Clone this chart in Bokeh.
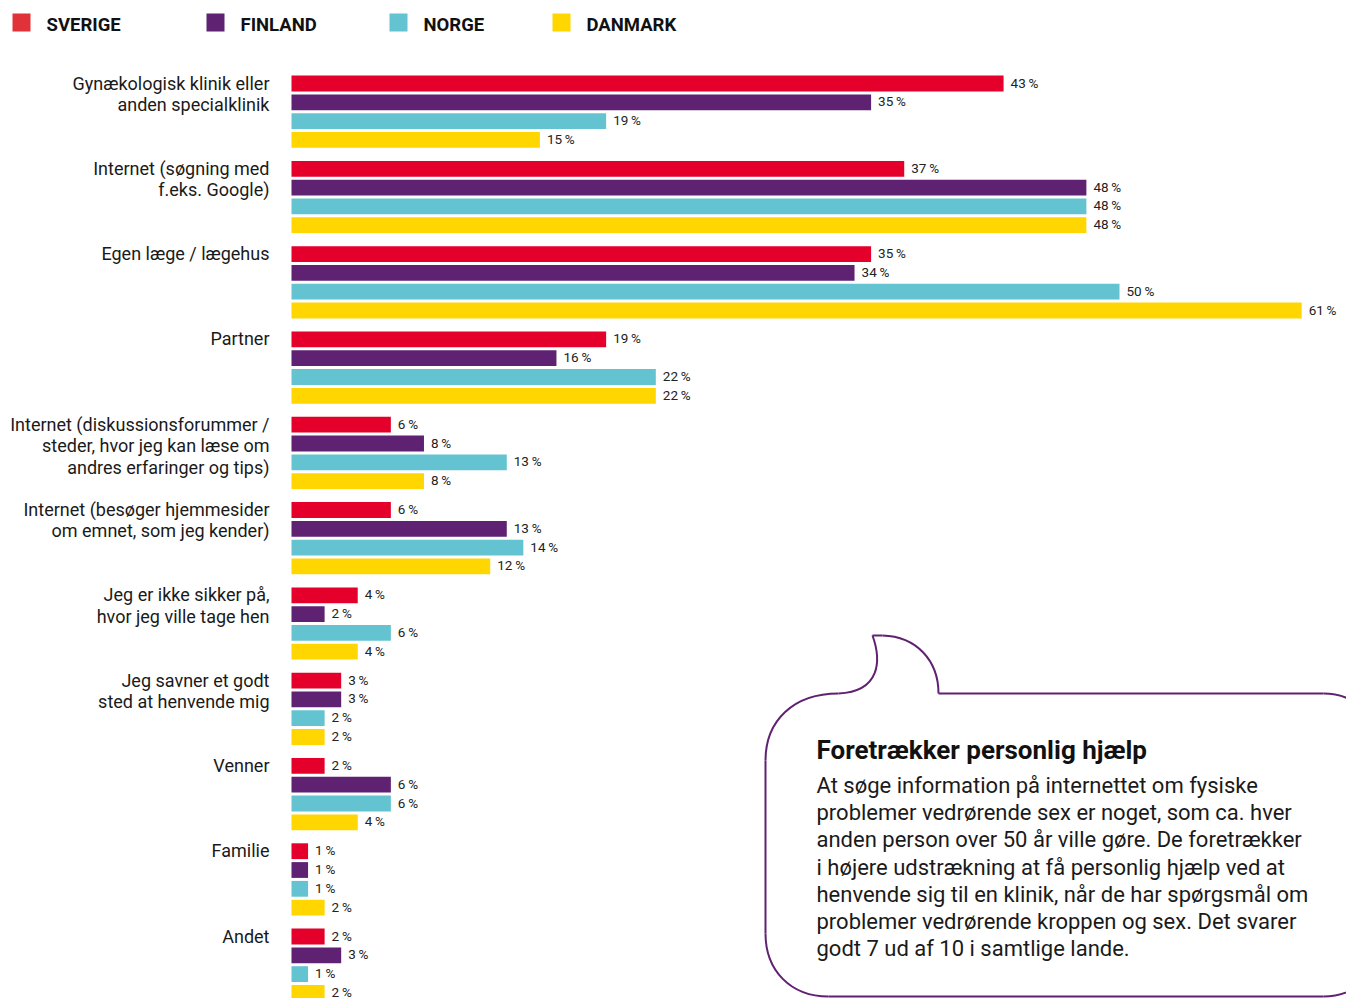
from bokeh.plotting import figure
from bokeh.models import Range1d
from bokeh.core.properties import value
from bokeh.embed import file_html
from bokeh.resources import INLINE

# ---------------- data ----------------
categories = [
    "Gynækologisk klinik eller\nanden specialklinik",
    "Internet (søgning med\nf.eks. Google)",
    "Egen læge / lægehus",
    "Partner",
    "Internet (diskussionsforummer /\nsteder, hvor jeg kan læse om\nandres erfaringer og tips)",
    "Internet (besøger hjemmesider\nom emnet, som jeg kender)",
    "Jeg er ikke sikker på,\nhvor jeg ville tage hen",
    "Jeg savner et godt\nsted at henvende mig",
    "Venner",
    "Familie",
    "Andet",
]
countries = ["SVERIGE", "FINLAND", "NORGE", "DANMARK"]
sverige = [43, 37, 35, 19, 6, 6, 4, 3, 2, 1, 2]
finland = [35, 48, 34, 16, 8, 13, 2, 3, 6, 1, 3]
norge = [19, 48, 50, 22, 13, 14, 6, 2, 6, 1, 1]
danmark = [15, 48, 61, 22, 8, 12, 4, 2, 4, 2, 2]
series = [sverige, finland, norge, danmark]

box_title = "Foretrækker personlig hjælp"
box_lines = [
    "At søge information på internettet om fysiske",
    "problemer vedrørende sex er noget, som ca. hver",
    "anden person over 50 år ville gøre. De foretrækker",
    "i højere udstrækning at få personlig hjælp ved at",
    "henvende sig til en klinik, når de har spørgsmål om",
    "problemer vedrørende kroppen og sex. Det svarer",
    "godt 7 ud af 10 i samtlige lande.",
]

# ---------------- styling / layout ----------------
bar_colors = ["#e4002b", "#5f2172", "#63c3d0", "#ffd600"]
legend_colors = ["#e03238", "#5f2172", "#63c3d0", "#ffd600"]
PURPLE = "#5f2172"
FONT = "Roboto"

W, H = 1346, 998
PX_PER_PCT = 16.56
X0 = 291
GROUP0 = 83.0
GROUP_PITCH = 85.3
BAR_PITCH = 18.8
BAR_H = 15.8

p = figure(width=W, height=H, output_backend="svg", toolbar_location=None,
           x_range=Range1d(-X0 / PX_PER_PCT, (W - X0) / PX_PER_PCT),
           y_range=Range1d(H, 0),
           min_border=0, min_border_left=0, min_border_right=0,
           min_border_top=0, min_border_bottom=0)
p.extra_x_ranges = {"px": Range1d(0, W)}
p.axis.visible = False
p.grid.visible = False
p.outline_line_color = None
p.background_fill_color = "white"
p.border_fill_color = "white"

n = len(categories)
group_y = [GROUP0 + GROUP_PITCH * i for i in range(n)]

for j, vals in enumerate(series):
    ys = [g + BAR_PITCH * j for g in group_y]
    p.hbar(y=ys, left=0, right=vals, height=BAR_H, color=bar_colors[j], line_color=None)
    p.text(x=vals, y=ys, text=[f"{v}\u2009%" for v in vals], x_offset=7, y_offset=-1,
           text_baseline="middle", text_align="left",
           text_font=value(FONT), text_font_size="13.5px", text_color="#222222")

# category labels
p.text(x=[0] * n, y=group_y, text=categories, x_offset=-22, y_offset=-11,
       text_align="right", text_baseline="top", text_line_height=1.02,
       text_font=value(FONT), text_font_size="18px", text_color="#1a1a1a")

# legend
leg_x = [21, 215, 398, 561]
p.rect(x=leg_x, y=[22] * 4, width=18, height=18, color=legend_colors,
       line_color=None, x_range_name="px", width_units="screen", height_units="screen")
p.text(x=[x + 25 for x in leg_x], y=[24] * 4, text=countries, x_range_name="px",
       text_baseline="middle", text_font=value(FONT), text_font_style="bold",
       text_font_size="18.5px", text_color="#111111")

# speech bubble (pixel coordinates on the extra range)
L, T, B, R = 765, 693, 996, 1385
kw = dict(line_color=PURPLE, line_width=2, x_range_name="px")
# tail left side
p.bezier(x0=[872], y0=[635], cx0=[881], cy0=[660], cx1=[880], cy1=[691], x1=[838], y1=[T], **kw)
# top-left corner
p.bezier(x0=[838], y0=[T], cx0=[793], cy0=[T], cx1=[L], cy1=[720], x1=[L], y1=[760], **kw)
# left edge
p.line(x=[L, L], y=[760, 933], **kw)
# bottom-left corner
p.bezier(x0=[L], y0=[933], cx0=[L], cy0=[970], cx1=[790], cy1=[B], x1=[828], y1=[B], **kw)
# bottom edge and bottom-right corner
p.line(x=[828, 1323], y=[B, B], **kw)
p.bezier(x0=[1323], y0=[B], cx0=[1356], cy0=[B], cx1=[R], cy1=[970], x1=[R], y1=[937], **kw)
# tail right side
p.line(x=[872, 882], y=[635, 635], **kw)
p.bezier(x0=[882], y0=[635], cx0=[916], cy0=[636], cx1=[938], cy1=[660], x1=[938], y1=[T], **kw)
# top edge and top-right corner
p.line(x=[938, 1323], y=[T, T], **kw)
p.bezier(x0=[1323], y0=[T], cx0=[1356], cy0=[T], cx1=[R], cy1=[720], x1=[R], y1=[753], **kw)

p.text(x=[816], y=[749], text=[box_title], x_range_name="px", text_baseline="middle",
       text_font=value(FONT), text_font_style="bold", text_font_size="26px",
       text_color="#111111")
p.text(x=[816] * len(box_lines), y=[785 + 27.2 * k for k in range(len(box_lines))],
       text=box_lines, x_range_name="px", text_baseline="middle",
       text_font=value(FONT), text_font_size="22px", text_color="#1a1a1a")

open("out.html", "w").write(file_html(p, INLINE))
